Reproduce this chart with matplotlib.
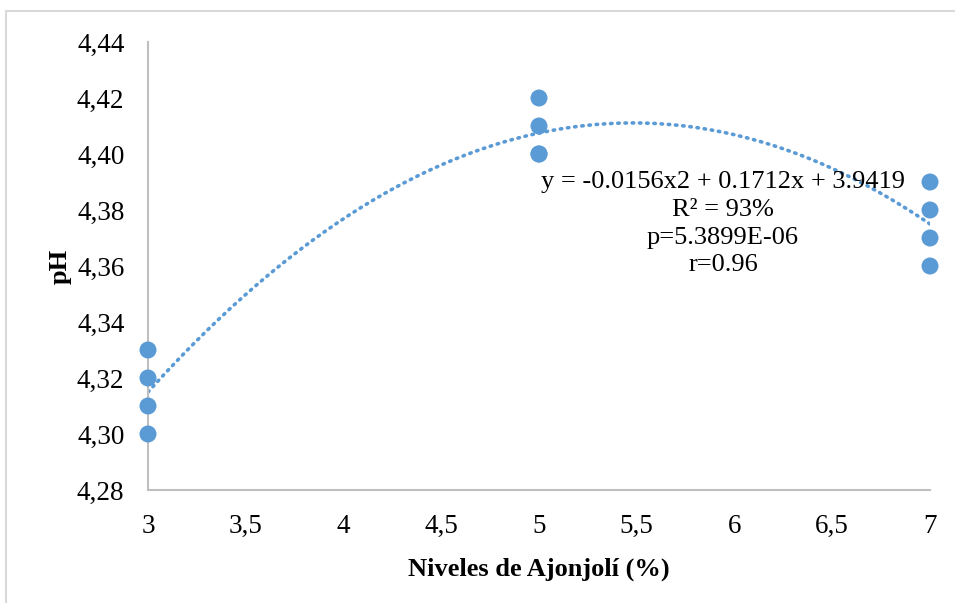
import numpy as np
import matplotlib
matplotlib.use("Agg")
import matplotlib.pyplot as plt
from matplotlib.patches import Rectangle

# ---- DATA ----
nivel = [3, 3, 3, 3, 5, 5, 5, 5, 7, 7, 7, 7]
ph = [4.30, 4.31, 4.32, 4.33, 4.40, 4.40, 4.41, 4.42, 4.36, 4.37, 4.38, 4.39]
x_ticks = [3, 3.5, 4, 4.5, 5, 5.5, 6, 6.5, 7]
x_ticklabels = ["3", "3,5", "4", "4,5", "5", "5,5", "6", "6,5", "7"]
y_ticks = [4.28, 4.30, 4.32, 4.34, 4.36, 4.38, 4.40, 4.42, 4.44]
y_ticklabels = ["4,28", "4,30", "4,32", "4,34", "4,36", "4,38", "4,40", "4,42", "4,44"]
eq_lines = ["y = -0.0156x2 + 0.1712x + 3.9419", "R² = 93%", "p=5.3899E-06", "r=0.96"]

BLUE = "#5B9BD5"
GRAY = "#BFBFBF"
W, H = 955, 603

plt.rcParams["font.family"] = ["Liberation Serif", "DejaVu Serif"]

fig = plt.figure(figsize=(W / 100, H / 100), dpi=100)
# outer chart border (Excel style)
fig.patches.append(Rectangle((6 / W, -0.1), 1.2, 1 - 11 / H + 0.1, transform=fig.transFigure,
                             fill=False, edgecolor="#D9D9D9", linewidth=1.5))

# axes placed by pixel coordinates
left, right, top, bottom = 148, 930, 42, 490
ax = fig.add_axes([left / W, 1 - bottom / H, (right - left) / W, (bottom - top) / H])

# polynomial trendline (fit from the data)
coef = np.polyfit(nivel, ph, 2)
xs = np.linspace(3, 7, 200)
ax.plot(xs, np.polyval(coef, xs), linestyle=(0, (0.4, 1.6)), dash_capstyle="round",
        color=BLUE, linewidth=2.6, zorder=2)
ax.scatter(nivel, ph, s=150, color=BLUE, edgecolors="none", zorder=3, clip_on=False)

ax.set_xlim(3, 7)
ax.set_ylim(4.28, 4.44)
ax.set_xticks(x_ticks)
ax.set_xticklabels(x_ticklabels)
ax.set_yticks(y_ticks)
ax.set_yticklabels(y_ticklabels)
ax.tick_params(length=0, labelsize=19.5, colors="black")
ax.tick_params(axis="x", pad=17)
ax.tick_params(axis="y", pad=17)

for side in ["top", "right"]:
    ax.spines[side].set_visible(False)
for side in ["left", "bottom"]:
    ax.spines[side].set_color(GRAY)
    ax.spines[side].set_linewidth(1.5)

ax.set_xlabel("Niveles de Ajonjolí (%)", fontsize=19, fontweight="bold", labelpad=14)
ax.set_ylabel("pH", fontsize=19, fontweight="bold", labelpad=4)

ax.text(5.941, 4.3751, "\n".join(eq_lines), ha="center", va="center", fontsize=19,
        linespacing=1.34, zorder=4)

fig.savefig("out.png", dpi=100)
